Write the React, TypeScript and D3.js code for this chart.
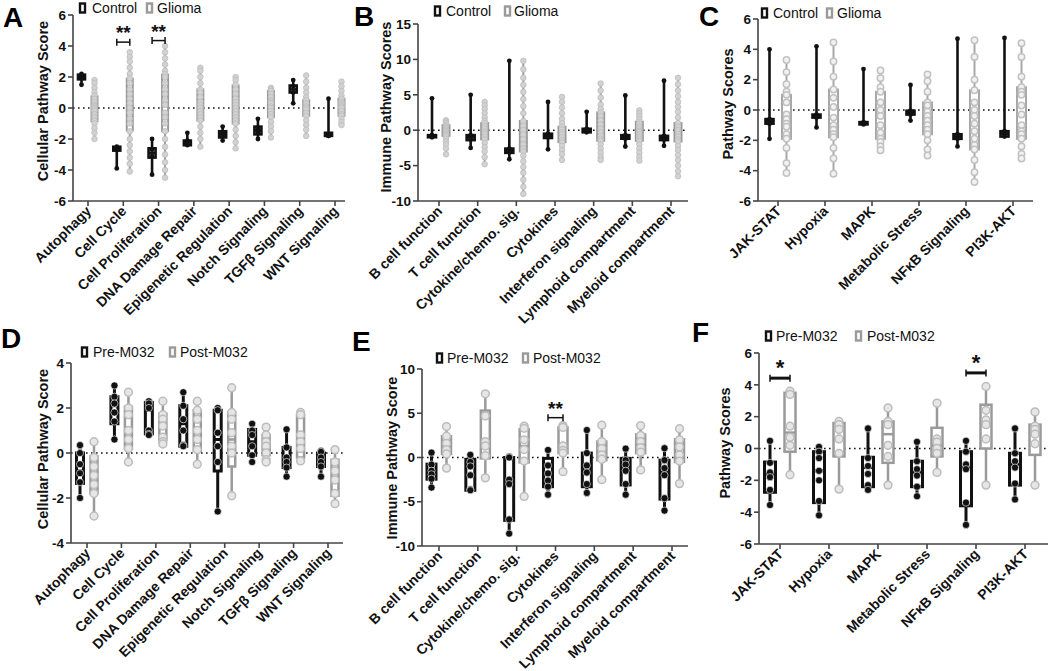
import React from "react";
import * as d3 from "d3";

// ---------------- DATA ----------------
const catsA = ["Autophagy", "Cell Cycle", "Cell Proliferation", "DNA Damage Repair", "Epigenetic Regulation", "Notch Signaling", "TGFβ Signaling", "WNT Signaling"];
const catsB = ["B cell function", "T cell function", "Cytokine/chemo. sig.", "Cytokines", "Interferon signaling", "Lymphoid compartment", "Myeloid compartment"];
const catsC = ["JAK-STAT", "Hypoxia", "MAPK", "Metabolic Stress", "NFκB Signaling", "PI3K-AKT"];

const ticksA = [-6, -4, -2, 0, 2, 4, 6];
const ticksB = [-10, -5, 0, 5, 10, 15];
const ticksC = [-6, -4, -2, 0, 2, 4, 6];
const ticksD = [-4, -2, 0, 2, 4];
const ticksE = [-10, -5, 0, 5, 10];
const ticksF = [-6, -4, -2, 0, 2, 4, 6];

const legendTop = ["Control", "Glioma"];
const legendBottom = ["Pre-M032", "Post-M032"];

// box stats: [min, q1, median, q3, max]
const ctrlStatsA = [[1.5, 1.85, 2.0, 2.15, 2.2], [-3.9, -2.75, -2.65, -2.5, -2.5], [-4.3, -3.2, -2.9, -2.6, -2.0], [-2.4, -2.4, -2.2, -2.1, -1.6], [-2.1, -1.9, -1.7, -1.5, -1.2], [-2.0, -1.7, -1.45, -1.2, -0.7], [0.3, 1.0, 1.2, 1.45, 1.8], [-1.8, -1.8, -1.75, -1.6, 0.6]];
const gliomaStatsA = [[-2.0, -0.85, 0, 0.75, 1.8], [-4.1, -1.45, 0.3, 1.9, 3.6], [-4.5, -1.5, 0.2, 2.15, 4.0], [-2.5, -0.8, 0, 1.2, 2.6], [-2.6, -1.0, 0, 1.45, 2.0], [-1.9, -0.6, 0.3, 1.1, 1.3], [-1.8, -0.5, 0, 0.5, 2.1], [-1.1, -0.5, 0.2, 0.6, 1.7]];
const ctrlPtsA = [[2.2, 2.1, 1.9, 1.5], [-2.5, -2.6, -2.7, -3.9], [-2.0, -2.7, -3.1, -4.3], [-1.6, -2.1, -2.3, -2.4], [-1.2, -1.6, -1.8, -2.1], [-0.7, -1.3, -1.6, -2.0], [1.8, 1.4, 1.0, 0.3], [0.6, -1.7, -1.8, -1.8]];
const gliomaPtsA = [
  [1.8, 1.6, 1.3, 1.0, 0.8, 0.6, 0.4, 0.2, 0.1, 0, -0.1, -0.2, -0.4, -0.6, -0.8, -1.0, -1.3, -1.6, -2.0],
  [3.6, 3.3, 3.0, 2.6, 2.2, 1.9, 1.6, 1.2, 0.9, 0.6, 0.3, 0, -0.3, -0.7, -1.0, -1.5, -2.0, -2.4, -2.8, -3.2, -3.6, -4.1],
  [4.0, 3.6, 3.2, 2.8, 2.4, 2.2, 2.0, 1.6, 1.2, 0.9, 0.5, 0.2, -0.3, -0.6, -1.0, -1.5, -2.0, -2.5, -3.0, -3.5, -4.0, -4.5],
  [2.6, 2.4, 2.0, 1.6, 1.2, 1.0, 0.7, 0.4, 0.2, 0, -0.2, -0.4, -0.6, -0.8, -1.2, -1.6, -2.0, -2.5],
  [2.0, 1.8, 1.5, 1.2, 0.9, 0.6, 0.4, 0.2, 0, -0.2, -0.4, -0.6, -0.8, -1.0, -1.4, -1.8, -2.2, -2.6],
  [1.3, 1.2, 1.1, 0.9, 0.7, 0.5, 0.4, 0.3, 0.1, 0, -0.2, -0.4, -0.6, -0.9, -1.2, -1.5, -1.9],
  [2.1, 1.7, 1.3, 1.0, 0.7, 0.5, 0.3, 0.1, 0, -0.1, -0.3, -0.5, -0.8, -1.1, -1.4, -1.8],
  [1.7, 1.4, 1.1, 0.8, 0.6, 0.4, 0.3, 0.2, 0.1, 0, -0.2, -0.4, -0.5, -0.7, -0.9, -1.1],
];

const ctrlStatsB = [[-1.0, -1.0, -0.85, -0.7, 4.5], [-2.5, -1.4, -1.0, -0.7, 5.0], [-4.1, -3.2, -2.9, -2.6, 9.8], [-2.7, -1.1, -0.8, -0.5, 4.0], [-0.3, -0.3, 0, 0.2, 2.6], [-2.3, -1.2, -1.0, -0.7, 4.9], [-2.2, -1.4, -1.1, -0.8, 7.0]];
const gliomaStatsB = [[-3.4, -0.8, -0.3, 0.7, 1.4], [-4.8, -1.3, -0.3, 1.0, 4.0], [-9.0, -3.0, -1.3, 1.3, 9.8], [-4.2, -1.7, -0.6, 0.5, 4.7], [-4.2, -1.5, -0.3, 2.5, 6.6], [-4.3, -1.5, -0.3, 1.2, 2.8], [-6.5, -1.6, -0.5, 1.0, 7.4]];
const ctrlPtsB = [[4.5, -0.7, -0.9, -1.0], [5.0, -0.7, -1.3, -2.5], [9.8, -2.6, -3.1, -4.1], [4.0, -0.5, -1.0, -2.7], [2.6, 0.2, -0.2, -0.3], [4.9, -0.7, -1.2, -2.3], [7.0, -0.8, -1.3, -2.2]];
const gliomaPtsB = [
  [1.4, 1.2, 1.0, 0.7, 0.5, 0.3, 0.1, -0.1, -0.3, -0.5, -0.7, -0.9, -1.2, -1.6, -2.0, -2.6, -3.4],
  [4.0, 3.5, 3.0, 2.4, 1.8, 1.3, 1.0, 0.6, 0.2, -0.2, -0.5, -0.9, -1.3, -1.8, -2.4, -3.0, -3.8, -4.8],
  [9.8, 8.6, 7.4, 6.4, 5.4, 4.4, 3.4, 2.4, 1.3, 0.6, 0, -0.6, -1.3, -2.0, -2.6, -3.0, -3.6, -4.4, -5.2, -6.0, -7.0, -8.0, -9.0],
  [4.7, 4.0, 3.2, 2.4, 1.6, 1.0, 0.5, 0.1, -0.3, -0.6, -1.0, -1.4, -1.7, -2.2, -2.8, -3.4, -4.2],
  [6.6, 5.6, 4.6, 3.6, 3.0, 2.5, 2.0, 1.4, 0.8, 0.2, -0.3, -0.8, -1.2, -1.5, -2.0, -2.6, -3.2, -3.8, -4.2],
  [2.8, 2.4, 2.0, 1.6, 1.2, 0.9, 0.5, 0.2, -0.1, -0.3, -0.6, -0.9, -1.2, -1.5, -2.0, -2.6, -3.2, -3.8, -4.3],
  [7.4, 6.5, 5.6, 4.8, 4.0, 3.3, 2.6, 1.8, 1.0, 0.5, 0, -0.5, -0.9, -1.3, -1.6, -2.2, -2.8, -3.5, -4.2, -5.0, -5.8, -6.5],
];

const ctrlStatsC = [[-1.9, -0.9, -0.75, -0.6, 4.0], [-1.15, -0.5, -0.4, -0.3, 4.2], [-0.95, -0.95, -0.9, -0.8, 2.7], [-0.7, -0.3, -0.2, -0.05, 1.65], [-2.4, -1.9, -1.75, -1.6, 4.7], [-1.75, -1.75, -1.55, -1.4, 4.75]];
const gliomaStatsC = [[-4.15, -1.9, -0.9, 1.0, 3.3], [-4.2, -1.8, -1.0, 1.35, 4.45], [-2.65, -1.9, -1.0, 1.2, 2.6], [-3.0, -1.6, -0.3, 0.5, 2.35], [-4.75, -2.6, -1.0, 1.3, 4.6], [-3.2, -1.9, -1.0, 1.5, 4.4]];
const ctrlPtsC = [[4.0, -0.6, -0.9, -1.9], [4.2, -0.3, -0.5, -1.15], [2.7, -0.8, -0.9, -0.95], [1.65, -0.05, -0.3, -0.7], [4.7, -1.6, -1.9, -2.4], [4.75, -1.4, -1.6, -1.75]];
const gliomaPtsC = [
  [3.3, 2.5, 1.7, 1.2, 1.0, 0.5, -0.3, -0.6, -0.9, -1.1, -1.6, -1.9, -2.5, -3.5, -4.15],
  [4.45, 3.2, 2.2, 1.35, 0.8, 0.2, -0.5, -1.0, -1.3, -1.6, -1.8, -2.5, -3.2, -4.2],
  [2.6, 2.1, 1.5, 1.2, 0.5, 0, -0.4, -1.0, -1.5, -1.9, -2.1, -2.4, -2.65],
  [2.35, 1.9, 1.2, 0.5, 0.3, -0.1, -0.4, -0.7, -1.0, -1.3, -1.6, -2.0, -2.6, -3.0],
  [4.6, 3.5, 2.0, 1.3, 0.5, 0, -0.4, -0.9, -1.4, -1.9, -2.3, -2.6, -3.3, -4.1, -4.75],
  [4.4, 3.5, 2.2, 1.5, 1.2, 1.0, 0.3, -0.3, -1.0, -1.4, -1.6, -1.9, -2.4, -2.9, -3.2],
];

const preStatsD = [[-2.0, -1.35, -0.8, 0, 0.35], [0.6, 1.3, 2.1, 2.5, 3.0], [0.8, 0.85, 1.9, 2.25, 2.3], [0.3, 0.3, 1.3, 2.1, 2.7], [-2.6, -0.8, 0.6, 1.9, 2.0], [-0.4, -0.1, 0.5, 1.05, 1.3], [-1.05, -0.65, -0.3, 0.25, 1.05], [-1.05, -0.6, -0.3, 0, 0.1]];
const postStatsD = [[-2.8, -1.8, -0.9, -0.15, 0.5], [-0.4, 0.2, 1.0, 2.05, 2.7], [0.4, 0.6, 1.3, 1.75, 2.3], [-0.5, 0.1, 1.0, 1.9, 2.3], [-1.9, -0.6, 0.6, 1.8, 2.9], [-0.4, -0.1, 0.3, 0.8, 1.15], [-0.35, -0.2, 0.6, 1.7, 1.8], [-2.25, -1.9, -0.8, -0.3, 0.15]];
const prePtsD = [[0.35, 0, -0.5, -0.9, -1.3, -2.0], [3.0, 2.5, 2.2, 1.8, 1.4, 0.6], [2.3, 2.2, 2.0, 1.0, 0.85, 0.8], [2.7, 2.1, 1.5, 1.0, 0.35, 0.3], [2.0, 1.9, 0.9, 0.3, -0.4, -2.6], [1.3, 1.0, 0.8, 0.3, -0.1, -0.4], [1.05, 0.25, -0.2, -0.4, -0.65, -1.05], [0.1, 0.05, -0.2, -0.4, -0.6, -1.05]];
const postPtsD = [[0.5, -0.2, -0.6, -1.0, -1.4, -1.8, -2.8], [2.7, 2.0, 1.7, 1.0, 0.6, 0.2, -0.4], [2.3, 1.7, 1.5, 1.2, 0.7, 0.5, 0.4], [2.3, 1.9, 1.5, 1.0, 0.6, 0.15, -0.5], [2.9, 1.8, 1.5, 0.9, 0.3, 0, -1.9], [1.15, 0.8, 0.5, 0.3, 0, -0.3, -0.4], [1.8, 1.7, 0.8, 0.5, 0.2, -0.35], [0.15, -0.4, -0.8, -1.2, -1.8, -2.25]];

const preStatsE = [[-3.4, -2.45, -1.8, -0.75, 0.55], [-3.7, -3.7, -1.0, -0.2, 0.3], [-8.6, -7.1, -2.8, 0, 0.1], [-4.2, -3.3, -1.8, -0.1, 0.85], [-4.0, -3.3, -1.4, 0.5, 3.1], [-4.2, -3.1, -1.2, -0.1, 1.0], [-6.0, -4.7, -1.7, -0.3, 1.05]];
const postStatsE = [[-1.2, 0.4, 1.2, 2.4, 3.5], [-2.3, -0.1, 1.5, 5.3, 7.2], [-4.4, -0.55, 1.3, 3.2, 3.55], [-1.6, 0.5, 1.3, 3.4, 3.6], [-2.5, -0.3, 0.5, 1.8, 3.65], [-1.4, 0.5, 1.3, 2.6, 3.6], [-2.95, -0.5, 0.5, 2.05, 3.25]];
const prePtsE = [[0.55, -0.8, -1.5, -1.9, -2.4, -3.4], [0.3, -0.5, -1.0, -2.0, -3.6, -3.7], [0.1, 0, -2.5, -3.0, -7.0, -8.6], [0.85, -0.9, -1.8, -2.6, -3.3, -4.2], [3.1, 0.5, -0.9, -1.7, -3.0, -4.0], [1.0, -0.3, -0.8, -1.5, -3.0, -4.2], [1.05, -0.3, -1.2, -2.0, -4.6, -6.0]];
const postPtsE = [[3.5, 2.4, 1.6, 0.9, 0.4, -1.2], [7.2, 4.7, 1.8, 1.3, 0.2, -2.3], [3.55, 3.3, 2.0, 0.9, -0.4, -4.4], [3.6, 3.4, 1.3, 0.8, 0.5, -1.6], [3.65, 1.8, 1.0, 0.3, -0.2, -2.5], [3.6, 2.5, 1.8, 1.1, 0.6, -1.4], [3.25, 2.0, 1.2, 0.3, -0.4, -2.95]];

const preStatsF = [[-3.55, -2.75, -1.6, -0.85, 0.48], [-4.2, -3.4, -1.4, -0.2, 0.1], [-2.6, -2.4, -1.2, -0.55, 1.26], [-3.0, -2.4, -1.5, -0.8, 0.42], [-4.8, -3.6, -1.2, -0.2, 0.48], [-3.2, -2.3, -1.0, -0.3, 1.26]];
const postStatsF = [[-1.65, -0.2, 1.0, 3.5, 3.6], [-2.55, -0.5, 0.6, 1.6, 1.7], [-2.3, -0.9, 0.9, 1.7, 2.55], [-1.5, -0.5, 0.2, 1.3, 2.85], [-2.3, 0, 1.5, 2.75, 3.9], [-2.3, -0.4, 0.9, 1.5, 2.3]];
const prePtsF = [[0.48, -0.9, -1.5, -1.8, -2.6, -3.55], [0.1, -0.2, -0.6, -1.4, -2.0, -3.3, -4.2], [1.26, -0.6, -1.1, -1.6, -2.3, -2.6], [0.42, -0.8, -1.3, -1.7, -2.4, -3.0], [0.48, -0.2, -1.0, -1.3, -3.4, -4.8], [1.26, -0.3, -0.8, -1.2, -2.2, -3.2]];
const postPtsF = [[3.6, 3.4, 1.4, 0.7, 0.2, -1.65], [1.7, 1.5, 1.2, 0.6, -0.3, -2.55], [2.55, 1.7, 1.5, 0.2, -0.5, -2.3], [2.85, 0.6, 0.4, 0, -0.3, -1.5], [3.9, 2.4, 1.8, 1.5, 0.6, -2.3], [2.3, 1.4, 1.2, 0.9, 0.3, -2.3]];

// significance: [category index, label, bracket value]
const sigA: [number, string, number][] = [[1, "**", 4.25], [2, "**", 4.35]];
const sigE: [number, string, number][] = [[3, "**", 4.5]];
const sigF: [number, string, number][] = [[0, "*", 4.42], [4, "*", 4.75]];

// ---------------- STYLE / LAYOUT ----------------
const FONT = "'Liberation Sans', Arial, Helvetica, sans-serif";
const BLACK = "#111";
const GRAY = "#9a9a9a";

const stCtrl = { stroke: BLACK, sw: 2.6, r: 2.4, pf: BLACK, ps: BLACK, psw: 0 };
const stGliomaAB = { stroke: GRAY, sw: 2, r: 2.8, pf: "#d2d2d2", ps: "#bdbdbd", psw: 0.8 };
const stGliomaC = { stroke: "#a8a8a8", sw: 2, r: 3.2, pf: "#f2f2f2", ps: "#c2c2c2", psw: 1.5 };
const stPre = { stroke: BLACK, sw: 3, r: 3.6, pf: BLACK, ps: "#fff", psw: 0.6 };
const stPost = { stroke: GRAY, sw: 2.5, r: 3.9, pf: "#e6e6e6", ps: "#bcbcbc", psw: 1.5 };

function Panel(props: any) {
  const { cfg, cats, s1, s2, p1, p2, ticks, sig, labels, st1, st2 } = props;
  const y = d3.scaleLinear().domain(cfg.dom).range([cfg.yBot, cfg.yTop]);
  const x = d3.scalePoint<string>().domain(cats).range([cfg.cx0, cfg.cx1]);

  const group = (gx: number, s: number[], pts: number[], st: any, bw: number, key: string) => (
    <g key={key}>
      <line x1={gx} x2={gx} y1={y(s[0])} y2={y(s[4])} stroke={st.stroke} strokeWidth={st.sw} />
      <rect x={gx - bw / 2} y={y(s[3])} width={bw} height={Math.max(0.5, y(s[1]) - y(s[3]))} fill="#fff" stroke={st.stroke} strokeWidth={st.sw} />
      <line x1={gx - bw / 2} x2={gx + bw / 2} y1={y(s[2])} y2={y(s[2])} stroke={st.stroke} strokeWidth={st.sw} />
      {pts.map((v: number, i: number) => (
        <circle key={i} cx={gx} cy={y(v)} r={st.r} fill={st.pf} stroke={st.ps} strokeWidth={st.psw} />
      ))}
    </g>
  );

  return (
    <g fontFamily={FONT}>
      {/* panel letter */}
      <text x={cfg.letterX} y={cfg.letterY} fontSize={28} fontWeight="bold" fill="#000">{cfg.letter}</text>
      {/* legend */}
      {labels.map((lab: string, i: number) => {
        const lx = cfg.legend[i][0];
        const tx = cfg.legend[i][1];
        const by = cfg.legendY;
        return (
          <g key={lab}>
            <rect x={lx} y={by - 9.5} width={5} height={9} fill="#fff" stroke={i === 0 ? BLACK : GRAY} strokeWidth={2.4} />
            <text x={tx} y={by} fontSize={14} fill="#111">{lab}</text>
          </g>
        );
      })}
      {/* y title */}
      <text transform={`translate(${cfg.titleX},${cfg.titleY}) rotate(-90)`} textAnchor="middle" fontSize={14.5} fontWeight="bold" fill="#111">{cfg.title}</text>
      {/* zero dotted line */}
      <line x1={cfg.x0} x2={cfg.x1} y1={y(0)} y2={y(0)} stroke="#111" strokeWidth={1.6} strokeDasharray="1.6 3.4" />
      {/* groups */}
      {cats.map((c: string, i: number) => {
        const cx = x(c) as number;
        return (
          <g key={c}>
            {group(cx - cfg.off, s1[i], p1[i], st1, cfg.bw1, "a")}
            {group(cx + cfg.off, s2[i], p2[i], st2, cfg.bw2, "b")}
          </g>
        );
      })}
      {/* significance */}
      {sig.map(([ci, lab, v]: [number, string, number], i: number) => {
        const cx = x(cats[ci]) as number;
        const xa = cx - cfg.off, xb = cx + cfg.off;
        const yy = y(v);
        return (
          <g key={"s" + i}>
            <line x1={xa} x2={xb} y1={yy} y2={yy} stroke="#111" strokeWidth={cfg.sigW} />
            <line x1={xa} x2={xa} y1={yy - 3.5} y2={yy + 3.5} stroke="#111" strokeWidth={1.5} />
            <line x1={xb} x2={xb} y1={yy - 3.5} y2={yy + 3.5} stroke="#111" strokeWidth={1.5} />
            <text x={cx} y={yy - 3} textAnchor="middle" fontSize={cfg.sigFont} fontWeight="bold" fill="#111">{lab}</text>
          </g>
        );
      })}
      {/* axes */}
      <line x1={cfg.x0} x2={cfg.x0} y1={cfg.yTop} y2={cfg.yBot} stroke="#444" strokeWidth={1.6} />
      <line x1={cfg.x0} x2={cfg.x1} y1={cfg.yBot} y2={cfg.yBot} stroke="#444" strokeWidth={1.6} />
      {ticks.map((t: number) => (
        <g key={"t" + t}>
          <line x1={cfg.x0 - 5} x2={cfg.x0} y1={y(t)} y2={y(t)} stroke="#444" strokeWidth={1.6} />
          <text x={cfg.x0 - 7} y={y(t)} dy="0.35em" textAnchor="end" fontSize={13.5} fontWeight="bold" fill="#111">{t}</text>
        </g>
      ))}
      {cats.map((c: string) => {
        const cx = x(c) as number;
        return (
          <g key={"x" + c}>
            <line x1={cx} x2={cx} y1={cfg.yBot} y2={cfg.yBot + 5} stroke="#444" strokeWidth={1.6} />
            <text transform={`translate(${cx + 4},${cfg.yBot + 11}) rotate(-45)`} textAnchor="end" fontSize={14} fontWeight="bold" fill="#111">{c}</text>
          </g>
        );
      })}
    </g>
  );
}

const cfgA = { letter: "A", letterX: 3, letterY: 27, x0: 73, x1: 345, cx0: 88, cx1: 335, yTop: 15, yBot: 201, dom: [-6, 6], off: 6.5, bw1: 7, bw2: 6, titleX: 48, titleY: 101, title: "Cellular Pathway Score", legendY: 13, legend: [[80, 92], [147, 157]], sigW: 1.5, sigFont: 19 };
const cfgB = { letter: "B", letterX: 354, letterY: 26, x0: 418, x1: 688, cx0: 439, cx1: 671, yTop: 24, yBot: 201, dom: [-10, 15], off: 7, bw1: 8, bw2: 7, titleX: 391, titleY: 107, title: "Immune Pathway Scores", legendY: 16, legend: [[435, 446], [505, 514]], sigW: 1.5, sigFont: 19 };
const cfgC = { letter: "C", letterX: 699, letterY: 26, x0: 758, x1: 1033, cx0: 778, cx1: 1013, yTop: 19, yBot: 201, dom: [-6, 6], off: 8.5, bw1: 8, bw2: 9, titleX: 733, titleY: 104, title: "Pathway Scores", legendY: 18, legend: [[762, 773], [827, 837]], sigW: 1.5, sigFont: 19 };
const cfgD = { letter: "D", letterX: 1, letterY: 348, x0: 71, x1: 343, cx0: 87, cx1: 328, yTop: 363, yBot: 543, dom: [-4, 4], off: 7, bw1: 7, bw2: 7, titleX: 48, titleY: 449, title: "Cellular Pathway Score", legendY: 357, legend: [[82, 93], [170, 180]], sigW: 1.5, sigFont: 19 };
const cfgE = { letter: "E", letterX: 352, letterY: 351, x0: 422, x1: 688, cx0: 439, cx1: 672, yTop: 369, yBot: 546, dom: [-10, 10], off: 7.5, bw1: 9, bw2: 9, titleX: 397, titleY: 458, title: "Immune Pathway Score", legendY: 363, legend: [[437, 447], [523, 533]], sigW: 1.5, sigFont: 19 };
const cfgF = { letter: "F", letterX: 692, letterY: 342, x0: 759, x1: 1048, cx0: 780, cx1: 1025, yTop: 353, yBot: 544, dom: [-6, 6], off: 10, bw1: 11, bw2: 11, titleX: 730, titleY: 443, title: "Pathway Scores", legendY: 341, legend: [[766, 776], [856, 867]], sigW: 3, sigFont: 22 };

export default function App() {
  return (
    <svg width={1050} height={671} viewBox="0 0 1050 671" style={{ position: "absolute", left: 0, top: 0, background: "#fff" }}>
      <rect x={0} y={0} width={1050} height={671} fill="#fff" />
      <Panel cfg={cfgA} cats={catsA} s1={ctrlStatsA} s2={gliomaStatsA} p1={ctrlPtsA} p2={gliomaPtsA} ticks={ticksA} sig={sigA} labels={legendTop} st1={stCtrl} st2={stGliomaAB} />
      <Panel cfg={cfgB} cats={catsB} s1={ctrlStatsB} s2={gliomaStatsB} p1={ctrlPtsB} p2={gliomaPtsB} ticks={ticksB} sig={[]} labels={legendTop} st1={stCtrl} st2={stGliomaAB} />
      <Panel cfg={cfgC} cats={catsC} s1={ctrlStatsC} s2={gliomaStatsC} p1={ctrlPtsC} p2={gliomaPtsC} ticks={ticksC} sig={[]} labels={legendTop} st1={stCtrl} st2={stGliomaC} />
      <Panel cfg={cfgD} cats={catsA} s1={preStatsD} s2={postStatsD} p1={prePtsD} p2={postPtsD} ticks={ticksD} sig={[]} labels={legendBottom} st1={stPre} st2={stPost} />
      <Panel cfg={cfgE} cats={catsB} s1={preStatsE} s2={postStatsE} p1={prePtsE} p2={postPtsE} ticks={ticksE} sig={sigE} labels={legendBottom} st1={stPre} st2={stPost} />
      <Panel cfg={cfgF} cats={catsC} s1={preStatsF} s2={postStatsF} p1={prePtsF} p2={postPtsF} ticks={ticksF} sig={sigF} labels={legendBottom} st1={stPre} st2={stPost} />
    </svg>
  );
}
